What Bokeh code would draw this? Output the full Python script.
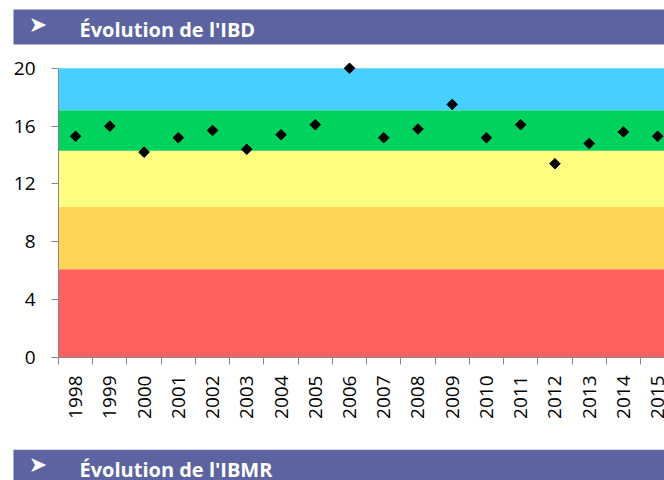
import numpy as np
from bokeh.plotting import figure
from bokeh.layouts import column
from bokeh.models import FixedTicker, CustomJSTickFormatter, Range1d, ColumnDataSource
from bokeh.core.properties import value
from bokeh.embed import file_html
from bokeh.resources import INLINE

# ---- data ----
years = [1998, 1999, 2000, 2001, 2002, 2003, 2004, 2005, 2006,
         2007, 2008, 2009, 2010, 2011, 2012, 2013, 2014, 2015]
ibd = [15.3, 16.0, 14.2, 15.2, 15.7, 14.4, 15.4, 16.1, 20.0,
       15.2, 15.8, 17.5, 15.2, 16.1, 13.4, 14.8, 15.6, 15.3]
band_bottom = [0, 6.1, 10.4, 14.3, 17.1]
band_top = [6.1, 10.4, 14.3, 17.1, 20]
band_colors = ["#FF6161", "#FFD457", "#FFFD80", "#00D25E", "#47CFFF"]
y_ticks = [0, 4, 8, 12, 16, 20]
title_top = "Évolution de l'IBD"
title_bottom = "Évolution de l'IBMR"

BANNER = "#5B63A0"
FONT = "Open Sans"
W = 664


def banner(h, rect_bottom, rect_top, arrow_y, text_y, txt):
    b = figure(width=W, height=h, x_range=Range1d(0, W), y_range=Range1d(0, h),
               x_axis_type=None, y_axis_type=None, frame_align=False,
               output_backend="svg", toolbar_location=None,
               min_border=0, outline_line_color=None)
    b.grid.visible = False
    b.quad(left=[13], right=[W], bottom=[rect_bottom], top=[rect_top],
           fill_color=BANNER, line_color=None)
    b.text(x=[37.5], y=[arrow_y], text=["➤"], text_color="white",
           text_font=value("DejaVu Sans"), text_font_size="22px",
           text_align="center", text_baseline="middle")
    b.text(x=[79], y=[text_y], text=[txt], text_color="white",
           text_font=value(FONT), text_font_size="20px", text_font_style="bold",
           text_align="left", text_baseline="middle")
    return b


top = banner(45, 1, 36, 21.5, 16.5, title_top)

n = len(years)
p = figure(width=W, height=404, x_range=Range1d(0, 17.7), y_range=Range1d(0, 20.4),
           output_backend="svg", toolbar_location=None, frame_align=False,
           min_border_left=58, min_border_right=0, min_border_top=17,
           min_border_bottom=92, outline_line_color=None)
p.grid.visible = False

bands = ColumnDataSource(dict(left=[0] * len(band_bottom), right=[n] * len(band_bottom),
                              bottom=band_bottom, top=band_top, color=band_colors))
p.quad(left="left", right="right", bottom="bottom", top="top",
       fill_color="color", line_color=None, source=bands)

pts = ColumnDataSource(dict(x=[i + 0.5 for i in range(n)], y=ibd))
p.scatter(x="x", y="y", source=pts, marker="square", angle=np.pi / 4,
          size=7.5, fill_color="black", line_color="black")

xa = p.xaxis[0]
xa.ticker = FixedTicker(ticks=[i + 0.5 for i in range(n)],
                        minor_ticks=list(range(n + 1)))
xa.formatter = CustomJSTickFormatter(
    args=dict(labels=[str(y) for y in years]),
    code="const i = Math.floor(tick); return (i >= 0 && i < labels.length) ? labels[i] : '';")
xa.major_tick_out = 0
xa.major_tick_in = 0
xa.minor_tick_out = 7
xa.minor_tick_in = 0
xa.minor_tick_line_color = "#888888"
xa.major_label_orientation = np.pi / 2
xa.major_label_standoff = 11
xa.axis_line_color = "#888888"
xa.major_label_text_font = FONT
xa.major_label_text_font_size = "19px"
xa.major_label_text_color = "black"

ya = p.yaxis[0]
ya.ticker = FixedTicker(ticks=y_ticks, minor_ticks=[])
ya.bounds = (0, 20)
ya.major_tick_out = 7
ya.major_tick_in = 0
ya.major_tick_line_color = "#888888"
ya.axis_line_color = "#888888"
ya.major_label_standoff = 16
ya.major_label_text_font = FONT
ya.major_label_text_font_size = "19px"
ya.major_label_text_color = "black"

bottom = banner(31, 0, 31, 16.5, 11.5, title_bottom)

layout = column(top, p, bottom, spacing=0)
open("out.html", "w").write(file_html(layout, INLINE))
